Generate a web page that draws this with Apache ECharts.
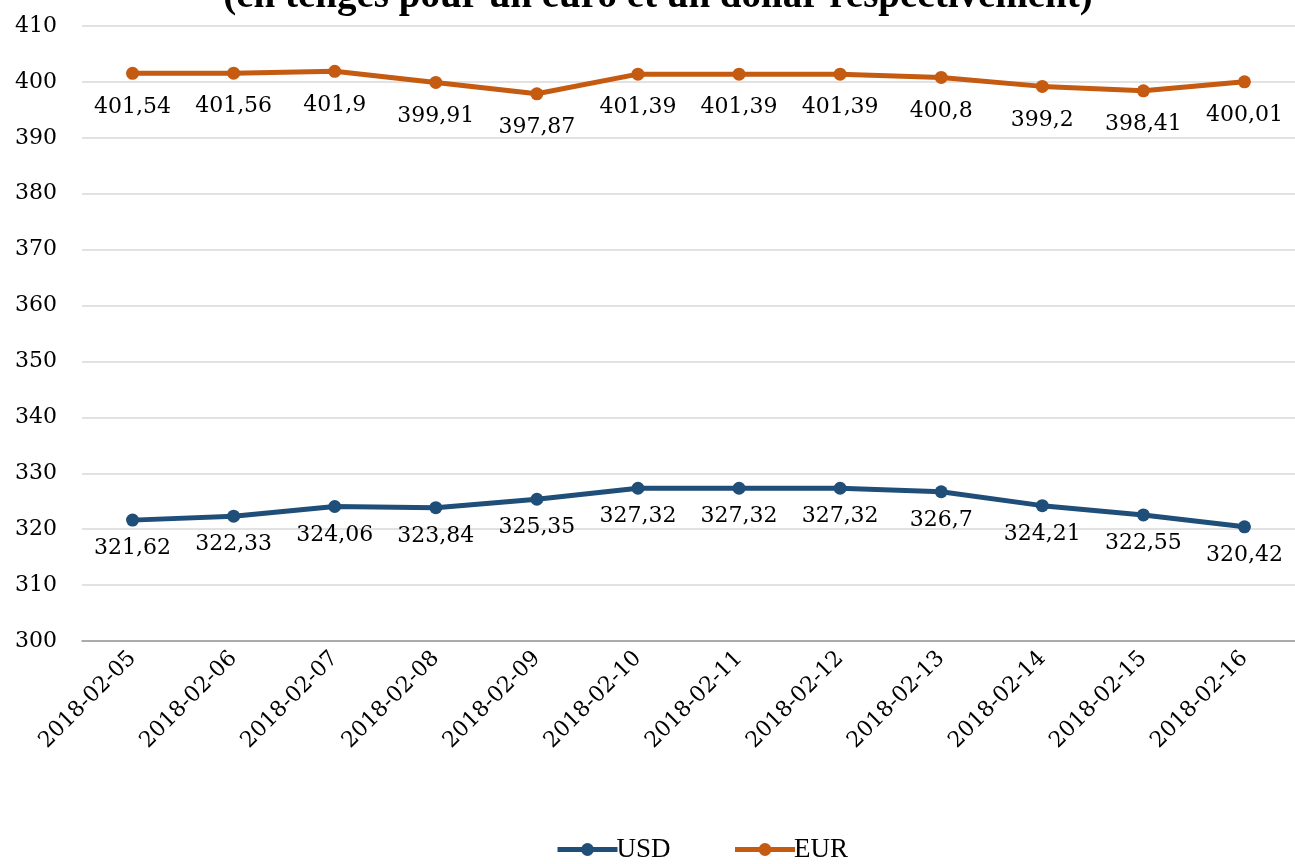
<!DOCTYPE html>
<html><head><meta charset="utf-8">
<script src="https://cdn.jsdelivr.net/npm/echarts@6/dist/echarts.min.js"></script>
<style>html,body{margin:0;padding:0;background:#fff}#c{width:1295px;height:864px}</style>
</head><body><div id="c"></div>
<script>
const categories = ['2018-02-05','2018-02-06','2018-02-07','2018-02-08','2018-02-09','2018-02-10','2018-02-11','2018-02-12','2018-02-13','2018-02-14','2018-02-15','2018-02-16'];
const usd = [321.62,322.33,324.06,323.84,325.35,327.32,327.32,327.32,326.7,324.21,322.55,320.42];
const eur = [401.54,401.56,401.9,399.91,397.87,401.39,401.39,401.39,400.8,399.2,398.41,400.01];
const titleText = '(en tenges pour un euro et un dollar respectivement)';
const FONT = 'DejaVu Serif';
const fmt = p => String(p.value).replace('.', ',');
const chart = echarts.init(document.getElementById('c'));
chart.setOption({
  animation:false,
  textStyle:{fontFamily:FONT},
  title:{text:titleText,left:653,textAlign:'center',top:-28,
    textStyle:{fontFamily:'Liberation Serif',fontWeight:'bold',fontSize:39,color:'#000'}},
  grid:{left:82,right:0,top:26,bottom:223},
  legend:{bottom:-4,left:550,itemGap:62,itemWidth:60,itemHeight:16,
    lineStyle:{width:5},
    textStyle:{fontFamily:'Liberation Serif',fontSize:27,color:'#000',padding:[0,0,0,-6]},data:['USD','EUR']},
  xAxis:{type:'category',data:categories,boundaryGap:true,
    axisLine:{lineStyle:{color:'#999',width:1.5}},axisTick:{show:false},
    axisLabel:{rotate:45,fontSize:22,color:'#000',margin:14,interval:0}},
  yAxis:{type:'value',min:300,max:410,interval:10,
    axisLine:{show:false},axisTick:{show:false},
    splitLine:{lineStyle:{color:'#d9d9d9',width:1.5}},
    axisLabel:{fontSize:22,color:'#000',margin:25}},
  series:[
    {name:'USD',type:'line',data:usd,color:'#1F4E79',lineStyle:{width:5},symbol:'circle',symbolSize:13,
     label:{show:true,position:'bottom',distance:11,fontSize:22,color:'#000',formatter:fmt}},
    {name:'EUR',type:'line',data:eur,color:'#C55A11',lineStyle:{width:5},symbol:'circle',symbolSize:13,
     label:{show:true,position:'bottom',distance:16,fontSize:22,color:'#000',formatter:fmt}}
  ]
});
</script></body></html>
